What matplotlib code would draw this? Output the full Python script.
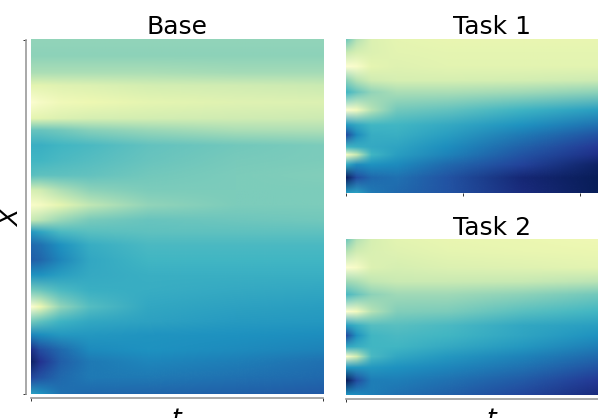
import numpy as np
import matplotlib
matplotlib.use('Agg')
import matplotlib.pyplot as plt
from matplotlib.image import NonUniformImage

# columns: position along t, rows: position along X (from the top of each panel down)
base_t = [0, 0.03, 0.1, 0.2, 0.4, 0.7, 1]
base_x = [355, 339, 322, 309, 292, 276, 264, 249, 234, 219, 204, 189, 174, 162, 149, 134, 119, 104, 87, 72, 59, 44, 32, 16, 0]
base_u = [
    [.66, .66, .66, .66, .66, .66, .66],
    [.65, .65, .65, .65, .65, .65, .65],
    [.70, .70, .70, .70, .70, .69, .69],
    [.84, .84, .83, .82, .79, .78, .76],
    [.97, .94, .90, .88, .85, .83, .82],
    [.85, .84, .82, .80, .79, .78, .77],
    [.58, .58, .60, .64, .67, .70, .71],
    [.48, .48, .50, .52, .57, .60, .62],
    [.50, .50, .52, .54, .58, .61, .62],
    [.55, .56, .56, .57, .60, .62, .63],
    [.80, .78, .71, .65, .62, .62, .62],
    [.95, .93, .85, .74, .66, .62, .62],
    [.75, .73, .67, .61, .58, .59, .60],
    [.40, .44, .52, .55, .56, .56, .56],
    [.28, .30, .38, .47, .52, .52, .52],
    [.25, .27, .35, .45, .50, .50, .50],
    [.38, .38, .42, .46, .48, .48, .48],
    [.60, .58, .52, .48, .47, .46, .45],
    [.97, .88, .66, .54, .45, .43, .42],
    [.60, .56, .49, .45, .43, .41, .40],
    [.35, .37, .40, .40, .39, .38, .37],
    [.10, .20, .28, .36, .38, .36, .34],
    [.03, .12, .25, .32, .35, .33, .30],
    [.18, .22, .28, .32, .32, .30, .28],
    [.42, .38, .30, .28, .27, .26, .24],
]

task_t = [0, 0.035, 0.086, 0.173, 0.345, 0.604, 0.863]
task1_x = [154, 141, 127, 113, 101, 83, 68, 58, 46, 38, 28, 15, 0]
task1_u = [
    [.60, .72, .82, .85, .86, .86, .86],
    [.75, .80, .82, .84, .85, .85, .85],
    [.98, .95, .85, .83, .84, .84, .84],
    [.65, .72, .78, .80, .80, .79, .77],
    [.50, .58, .66, .70, .70, .68, .65],
    [.97, .92, .72, .60, .57, .49, .42],
    [.40, .45, .50, .50, .46, .38, .30],
    [.20, .36, .47, .48, .42, .32, .22],
    [.50, .48, .46, .44, .37, .26, .14],
    [.93, .75, .50, .42, .34, .22, .10],
    [.45, .36, .38, .36, .28, .17, .03],
    [.02, .20, .28, .30, .22, .06, 0],
    [.40, .42, .32, .28, .22, .08, 0],
]

task2_x = [155, 143, 127, 113, 100, 83, 69, 59, 48, 38, 27, 14, 0]
task2_u = [
    [.60, .72, .80, .84, .86, .87, .89],
    [.72, .78, .81, .83, .85, .86, .87],
    [.97, .94, .82, .80, .82, .83, .84],
    [.68, .70, .74, .76, .76, .75, .73],
    [.52, .58, .65, .68, .68, .65, .60],
    [.97, .92, .72, .63, .62, .55, .50],
    [.42, .48, .54, .55, .52, .45, .42],
    [.20, .38, .50, .52, .50, .44, .38],
    [.45, .48, .50, .50, .46, .40, .33],
    [.95, .78, .52, .45, .40, .34, .28],
    [.40, .40, .40, .38, .35, .30, .22],
    [.01, .20, .33, .33, .30, .24, .14],
    [.38, .36, .33, .30, .26, .18, .08],
]

W, H = 598, 418
GRAY = '#999999'

# панель по пикселям: левый край, верх, правый край, низ
def panel(left, top, right, bottom):
    return fig.add_axes([left / W, 1 - bottom / H, (right - left) / W, (bottom - top) / H])

def draw(ax, t, x, u, title):
    im = NonUniformImage(ax, interpolation='bilinear', cmap='YlGnBu_r')
    im.set_clim(0, 1)
    im.set_data(t, x[::-1], np.array(u)[::-1])
    ax.add_image(im)
    ax.set_xlim(0, 1)
    ax.set_ylim(min(x), max(x))
    ax.set_title(title, fontsize=18, pad=4)
    for s in ['top', 'right', 'left', 'bottom']:
        ax.spines[s].set_visible(False)
    ax.set_yticks([])
    ax.set_xticks([])

def gray_spine(ax, side, offset):
    ax.spines[side].set_visible(True)
    ax.spines[side].set_position(('outward', offset))
    ax.spines[side].set_color(GRAY)
    ax.spines[side].set_linewidth(1.2)

fig = plt.figure(figsize=(W / 100, H / 100), dpi=100)

ax1 = panel(31, 39.5, 323, 394)
draw(ax1, base_t, base_x, base_u, 'Base')
gray_spine(ax1, 'left', 3.5)
gray_spine(ax1, 'bottom', 3)
ax1.set_xticks([0, 1])
ax1.set_yticks([0, 355])
ax1.set_xticklabels([])
ax1.set_yticklabels([])
ax1.tick_params(length=2.5, width=0.7, color='#333333')
ax1.set_xlabel('$t$', fontsize=18, labelpad=0)
ax1.set_ylabel('$X$', fontsize=18, labelpad=-4)

# правые панели такой же ширины, как Base, и обрезаются краем рисунка
ax2 = panel(346, 39.5, 638, 193)
draw(ax2, task_t, task1_x, task1_u, 'Task 1')
ax2.set_xticks([0, 0.4, 0.8])
ax2.set_xticklabels([])
ax2.tick_params(length=2.5, width=0.7, color='#333333')

ax3 = panel(346, 240.5, 638, 395)
draw(ax3, task_t, task2_x, task2_u, 'Task 2')
gray_spine(ax3, 'bottom', 3)
ax3.set_xticks([0])
ax3.set_xticklabels([])
ax3.tick_params(length=2.5, width=0.7, color='#333333')
ax3.set_xlabel('$t$', fontsize=18, labelpad=0)

plt.savefig('out.png', dpi=100)
